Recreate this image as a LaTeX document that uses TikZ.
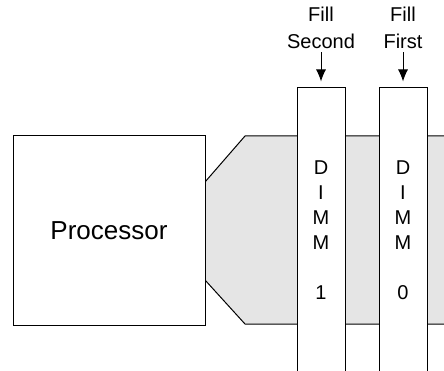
\documentclass[tikz,border=0pt]{standalone}
\usepackage{fontspec}
\setmainfont{Liberation Sans}
\usetikzlibrary{positioning, arrows.meta}

\begin{document}
\begin{tikzpicture}[
    x=1pt, y=-1pt,
    line width=1pt,
    cpu/.style={
        draw, fill=white, minimum width=192pt, minimum height=189pt,
        font=\fontsize{26}{31}\selectfont
    },
    dimm/.style={
        draw, fill=white, minimum width=48pt, minimum height=284pt,
        align=center, inner sep=0pt, font=\fontsize{20}{25}\selectfont
    },
    lbl/.style={align=center, inner sep=0pt, font=\fontsize{20}{27}\selectfont},
    arr/.style={-{Latex[length=12pt,width=10pt]}, shorten <=3pt, shorten >=6pt}
]
\useasboundingbox (0,0) rectangle (444,371);
\clip (0,0) rectangle (444,371);

% --- Memory bus ---
\fill[black!10] (205,182) -- (245,136) -- (450,136) -- (450,324)
    -- (245,324) -- (205,280) -- cycle;
\draw (205,182) -- (245,136) -- (450,136);
\draw (205,280) -- (245,324) -- (450,324);

% --- Processor ---
\node[cpu] (cpu) at (109,230.5) {Processor};

% --- DIMM slots ---
\node[dimm] (dimm1) at (321,230) {D\\I\\M\\M\\[25pt]1};
\node[dimm] (dimm0) at (403,230) {D\\I\\M\\M\\[25pt]0};

% --- Fill order labels ---
\node[lbl, above=38pt of dimm1] (fillsecond) {Fill\\Second};
\node[lbl, above=38pt of dimm0] (fillfirst) {Fill\\First};

% --- Arrows ---
\draw[arr] (fillsecond) -- (dimm1);
\draw[arr] (fillfirst) -- (dimm0);

\end{tikzpicture}
\end{document}
